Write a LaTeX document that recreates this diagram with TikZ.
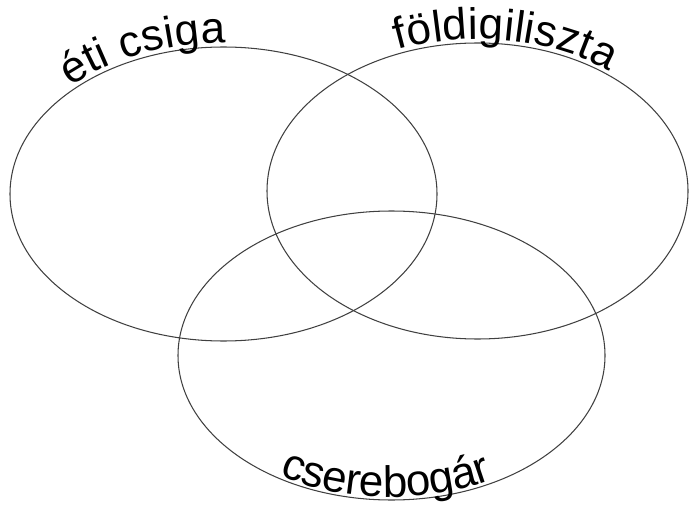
\documentclass[tikz,border=0pt]{standalone}
\usepackage{fontspec}
\setmainfont{Liberation Sans}
\usetikzlibrary{decorations.text}
\tikzset{
  venn/.style={draw=black!75, line width=1.05pt},
  arclabel/.style={decorate, decoration={text along path, text={#1}, raise=4pt}},
}
\begin{document}
\begin{tikzpicture}[x=1pt,y=1pt]
\useasboundingbox (0,0) rectangle (690,504);
\coordinate (L) at (223.5,310);
\coordinate (R) at (477.5,313);
\coordinate (B) at (391.5,148.5);
\draw[venn] (L) ellipse [x radius=213.5pt, y radius=147pt];
\draw[venn] (R) ellipse [x radius=210.5pt, y radius=148pt];
\draw[venn] (B) ellipse [x radius=213.5pt, y radius=144.5pt];
\path[arclabel={|\fontsize{44}{44}\selectfont|éti csiga}]
  ([shift={(135:213.5pt and 147pt)}]L) arc[start angle=135, end angle=30, x radius=213.5pt, y radius=147pt];
\path[arclabel={|\fontsize{44}{44}\selectfont|földigiliszta}]
  ([shift={(112:210.5pt and 148pt)}]R) arc[start angle=112, end angle=5, x radius=210.5pt, y radius=148pt];
\path[decorate, decoration={text along path, text={|\fontsize{44}{44}\selectfont|cserebogár}, raise=3pt}]
  ([shift={(238:213.5pt and 144.5pt)}]B) arc[start angle=238, end angle=340, x radius=213.5pt, y radius=144.5pt];
\end{tikzpicture}
\end{document}
